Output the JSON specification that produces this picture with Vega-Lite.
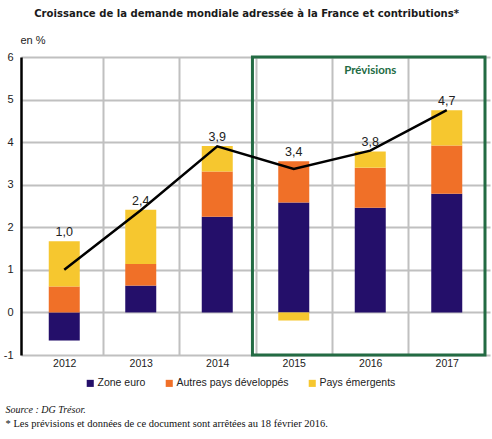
{
  "$schema": "https://vega.github.io/schema/vega-lite/v6.json",
  "width": 469,
  "height": 298,
  "autosize": "none",
  "padding": {"left": 21, "top": 57, "right": 2, "bottom": 84},
  "background": "white",
  "config": {
    "view": {"stroke": null},
    "font": "Liberation Sans",
    "axisY": {"labelFontSize": 11, "labelColor": "#222", "grid": true, "gridColor": "#c0c0c0", "gridWidth": 2, "ticks": false, "domainColor": "black", "domainWidth": 2.5, "labelPadding": 8, "labelExpr": "'' + datum.value"},
    "axisX": {"labelFontSize": 10.5, "labelColor": "#222"}
  },
  "title": {"text": "Croissance de la demande mondiale adressée à la France et contributions*", "font": "DejaVu Sans Condensed, Liberation Sans, sans-serif", "fontWeight": "bold", "fontSize": 11.2, "color": "#1a1a1a", "anchor": "middle", "frame": "bounds", "offset": 15},
  "datasets": {
    "years": [
      {"year": 2012, "Zone euro": -0.66, "Autres pays développés": 0.61, "Pays émergents": 1.06, "total": 1.0, "label": "1,0"},
      {"year": 2013, "Zone euro": 0.63, "Autres pays développés": 0.51, "Pays émergents": 1.27, "total": 2.4, "label": "2,4"},
      {"year": 2014, "Zone euro": 2.25, "Autres pays développés": 1.06, "Pays émergents": 0.6, "total": 3.9, "label": "3,9"},
      {"year": 2015, "Zone euro": 2.58, "Autres pays développés": 0.97, "Pays émergents": -0.19, "total": 3.37, "label": "3,4"},
      {"year": 2016, "Zone euro": 2.46, "Autres pays développés": 0.94, "Pays émergents": 0.38, "total": 3.8, "label": "3,8"},
      {"year": 2017, "Zone euro": 2.79, "Autres pays développés": 1.13, "Pays émergents": 0.83, "total": 4.75, "label": "4,7"}
    ],
    "forecast": [{"start": 2014.46, "end": 2017.5, "top": 6, "bottom": -1, "mid": 2016, "text": "Prévisions"}]
  },
  "resolve": {"axis": {"x": "independent"}},
  "layer": [
    {
      "data": {"name": "years"},
      "transform": [
        {"fold": ["Zone euro", "Autres pays développés", "Pays émergents"], "as": ["serie", "value"]},
        {"calculate": "indexof(['Zone euro', 'Autres pays développés', 'Pays émergents'], datum.serie)", "as": "ord"}
      ],
      "mark": {"type": "bar", "size": 31},
      "encoding": {
        "x": {"field": "year", "type": "quantitative", "scale": {"domain": [2011.5, 2017.5], "nice": false, "zero": false},
          "axis": {"values": [2012, 2013, 2014, 2015, 2016, 2017], "format": "d", "grid": false, "ticks": false, "domain": false, "labelPadding": 3,
            "title": "Source : DG Trésor.", "titleFont": "Liberation Serif", "titleFontStyle": "italic", "titleFontWeight": "normal", "titleFontSize": 10, "titleColor": "#111",
            "titleAnchor": null, "titleAlign": "left", "titleBaseline": "alphabetic", "titleX": -16, "titleY": 57}},
        "y": {"field": "value", "type": "quantitative", "stack": "zero", "title": "en %", "scale": {"domain": [-1, 6], "nice": false},
          "axis": {"values": [-1, 0, 1, 2, 3, 4, 5, 6], "titleAngle": 0, "titleX": -1, "titleY": -17, "titleAlign": "left", "titleBaseline": "middle", "titleFontWeight": "normal", "titleFontSize": 11, "titleColor": "#222"}},
        "color": {"field": "serie", "type": "nominal", "scale": {"domain": ["Zone euro", "Autres pays développés", "Pays émergents"], "range": ["#240f6a", "#f07028", "#f6c72f"]},
          "legend": {"title": null, "orient": "none", "legendX": 64, "legendY": 321, "direction": "horizontal", "symbolType": "square", "symbolSize": 50, "symbolStrokeWidth": 0, "labelFontSize": 10.5, "labelColor": "#222", "columnPadding": 18, "labelOffset": 2}},
        "order": {"field": "ord", "type": "quantitative"}
      }
    },
    {
      "mark": {"type": "rule", "color": "black", "strokeWidth": 2.5},
      "encoding": {"y": {"datum": 0, "type": "quantitative", "title": "en %", "scale": {"domain": [-1, 6], "nice": false}}}
    },
    {
      "data": {"name": "forecast"},
      "mark": {"type": "rect", "filled": false, "stroke": "#236b43", "strokeWidth": 3},
      "encoding": {
        "x": {"field": "start", "type": "quantitative", "scale": {"domain": [2011.5, 2017.5], "nice": false, "zero": false},
          "axis": {"orient": "top", "values": [2012.5, 2013.5, 2014.5, 2015.5, 2016.5], "grid": true, "gridColor": "#c0c0c0", "gridWidth": 2, "labels": false, "ticks": false, "domain": false,
            "title": "* Les prévisions et données de ce document sont arrêtées au 18 février 2016.", "titleFont": "Liberation Serif", "titleFontWeight": "normal", "titleFontSize": 10.5, "titleColor": "#111",
            "titleAnchor": null, "titleAlign": "left", "titleBaseline": "alphabetic", "titleX": -16, "titleY": 369}},
        "x2": {"field": "end"},
        "y": {"field": "top", "type": "quantitative", "title": "en %", "scale": {"domain": [-1, 6], "nice": false}},
        "y2": {"field": "bottom"}
      }
    },
    {
      "data": {"name": "years"},
      "mark": {"type": "line", "color": "black", "strokeWidth": 2.5},
      "encoding": {
        "x": {"field": "year", "type": "quantitative", "scale": {"domain": [2011.5, 2017.5], "nice": false, "zero": false}, "axis": null},
        "y": {"field": "total", "type": "quantitative", "title": "en %", "scale": {"domain": [-1, 6], "nice": false}}
      }
    },
    {
      "data": {"name": "years"},
      "transform": [
        {"calculate": "max(datum.total, max(datum['Zone euro'], 0) + max(datum['Autres pays développés'], 0) + max(datum['Pays émergents'], 0))", "as": "ly"}
      ],
      "mark": {"type": "text", "fontSize": 12.5, "color": "#222", "dy": -9},
      "encoding": {
        "x": {"field": "year", "type": "quantitative", "scale": {"domain": [2011.5, 2017.5], "nice": false, "zero": false}, "axis": null},
        "y": {"field": "ly", "type": "quantitative", "title": "en %", "scale": {"domain": [-1, 6], "nice": false}},
        "text": {"field": "label"}
      }
    },
    {
      "data": {"name": "forecast"},
      "mark": {"type": "text", "font": "Lato", "fontWeight": "bold", "fontSize": 11.5, "color": "#236b43", "dy": 14},
      "encoding": {
        "x": {"field": "mid", "type": "quantitative", "scale": {"domain": [2011.5, 2017.5], "nice": false, "zero": false}, "axis": null},
        "y": {"field": "top", "type": "quantitative", "title": "en %", "scale": {"domain": [-1, 6], "nice": false}},
        "text": {"field": "text"}
      }
    }
  ]
}
